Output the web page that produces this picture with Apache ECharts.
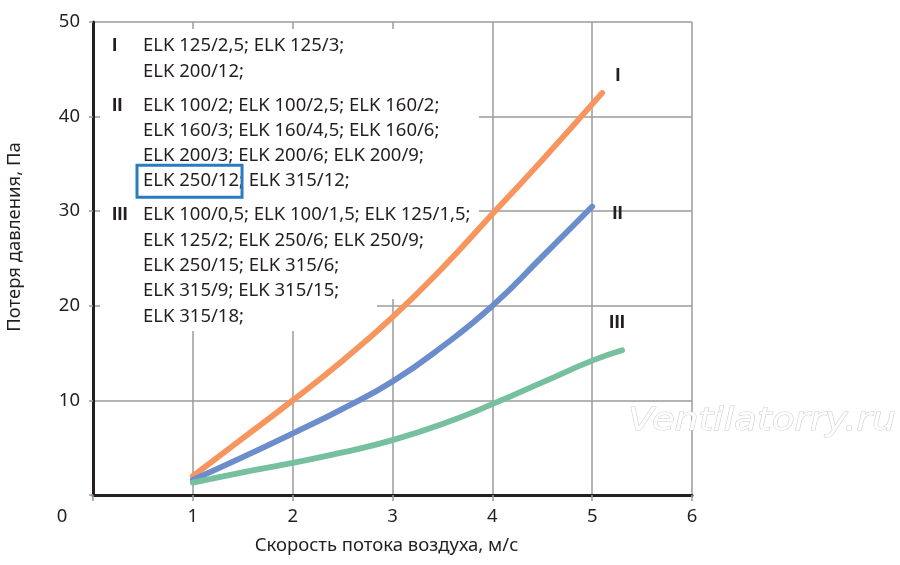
<!DOCTYPE html>
<html><head><meta charset="utf-8">
<script src="https://cdn.jsdelivr.net/npm/echarts@6/dist/echarts.min.js"></script>
<style>html,body{margin:0;padding:0;background:#fff}#c{width:900px;height:565px}</style>
</head><body><div id="c"></div>
<script>
// ---- data ----
const xTickValues = [0, 1, 2, 3, 4, 5, 6];
const yTickValues = [0, 10, 20, 30, 40, 50];
const seriesNames = ['I', 'II', 'III'];
const curveIx   = [1, 1.5, 2, 2.5, 3, 3.5, 4, 4.5, 5.1];
const curveIy   = [2.0, 6.0, 10.0, 14.2, 18.8, 24.0, 29.7, 35.4, 42.5];
const curveIIx  = [1, 1.5, 2, 2.5, 3, 3.5, 4, 4.5, 5];
const curveIIy  = [1.6, 4.0, 6.5, 9.1, 12.0, 15.7, 20.0, 25.2, 30.5];
const curveIIIx = [1, 1.5, 2, 2.5, 3, 3.5, 4, 4.5, 5, 5.3];
const curveIIIy = [1.3, 2.4, 3.4, 4.5, 5.8, 7.5, 9.6, 11.9, 14.2, 15.3];
const groupNumerals = ['I', 'II', 'III'];
const groupLinesI   = ['ELK 125/2,5; ELK 125/3;', 'ELK 200/12;'];
const groupLinesII  = ['ELK 100/2; ELK 100/2,5; ELK 160/2;', 'ELK 160/3; ELK 160/4,5; ELK 160/6;', 'ELK 200/3; ELK 200/6; ELK 200/9;', 'ELK 250/12; ELK 315/12;'];
const groupLinesIII = ['ELK 100/0,5; ELK 100/1,5; ELK 125/1,5;', 'ELK 125/2; ELK 250/6; ELK 250/9;', 'ELK 250/15; ELK 315/6;', 'ELK 315/9; ELK 315/15;', 'ELK 315/18;'];
const highlightedModel = 'ELK 250/12';
const xAxisTitle = 'Скорость потока воздуха, м/с';
const yAxisTitle = 'Потеря давления, Па';
const watermarkText = 'Ventilatorry.ru';

// ---- styles ----
const FONT_FAMILY = '"Noto Sans", "Open Sans", sans-serif';
const BOLD_FAMILY = '"Liberation Sans", "DejaVu Sans", sans-serif';
const FS = 18.5;
const INK = '#231f20';
const GRIDC = '#9b9b9b';
const colors = ['#f7955f', '#6b8dcb', '#76c09f'];
const endOffsets = [[5, -17], [12, 7], [-21, -27]];

function zip(xs, ys) { return xs.map((x, i) => [x, ys[i]]); }
const curves = [zip(curveIx, curveIy), zip(curveIIx, curveIIy), zip(curveIIIx, curveIIIy)];

const groups = [groupLinesI, groupLinesII, groupLinesIII];
const graphics = [];
// white masks hiding the grid behind the text block
graphics.push({ type: 'rect', z: 1, silent: true, shape: { x: 100, y: 29, width: 379, height: 270 }, style: { fill: '#fff' } });
graphics.push({ type: 'rect', z: 1, silent: true, shape: { x: 100, y: 299, width: 277, height: 32 }, style: { fill: '#fff' } });

const textX = 143, numX = 112;
let idx = 0;
const measureCtx = document.createElement('canvas').getContext('2d');
measureCtx.font = FS + 'px ' + FONT_FAMILY;
groups.forEach((lines, g) => {
  lines.forEach((line, j) => {
    const y = 46 + idx * 25.3 + g * 8.7;
    if (j === 0) {
      graphics.push({ type: 'text', z: 3, silent: true, style: { text: groupNumerals[g], x: numX, y: y, font: 'bold 19px ' + BOLD_FAMILY, fill: INK, align: 'left', verticalAlign: 'middle' } });
    }
    graphics.push({ type: 'text', z: 3, silent: true, style: { text: line, x: textX, y: y, font: FS + 'px ' + FONT_FAMILY, fill: INK, align: 'left', verticalAlign: 'middle' } });
    if (line.indexOf(highlightedModel) === 0) {
      const w = measureCtx.measureText(highlightedModel).width;
      graphics.push({ type: 'rect', z: 3, silent: true, shape: { x: textX - 6, y: y - 16, width: w + 9, height: 32 }, style: { fill: 'none', stroke: '#2a7cc0', lineWidth: 3 } });
    }
    idx++;
  });
});
// y axis title
graphics.push({ type: 'text', z: 3, silent: true, x: 15, y: 237, rotation: Math.PI / 2, style: { text: yAxisTitle, x: 0, y: 0, font: FS + 'px ' + FONT_FAMILY, fill: INK, align: 'center', verticalAlign: 'middle' } });
// origin label
graphics.push({ type: 'text', z: 3, silent: true, style: { text: String(xTickValues[0]), x: 62, y: 517, font: FS + 'px ' + FONT_FAMILY, fill: INK, align: 'center', verticalAlign: 'middle' } });
// watermark
graphics.push({ type: 'text', z: 4, silent: true, x: 762, y: 422, scaleX: 1.17, style: { text: watermarkText, x: 0, y: 0, font: 'italic 32px "DejaVu Sans", sans-serif', fill: '#ffffff', stroke: '#cdcdcd', lineWidth: 1, align: 'center', verticalAlign: 'middle' } });

const chart = echarts.init(document.getElementById('c'), null, { renderer: 'canvas' });
chart.setOption({
  animation: false,
  backgroundColor: '#fff',
  grid: { left: 93, right: 208, top: 22, bottom: 70, containLabel: false },
  xAxis: {
    type: 'value', min: xTickValues[0], max: xTickValues[xTickValues.length - 1], interval: 1,
    name: xAxisTitle, nameLocation: 'middle', nameGap: 41,
    nameTextStyle: { fontSize: FS, fontFamily: FONT_FAMILY, color: INK, padding: [0, 12, 0, 0] },
    axisLine: { show: true, onZero: false, lineStyle: { color: INK, width: 3 } },
    axisTick: { show: true, length: 6, lineStyle: { color: GRIDC, width: 1.5 } },
    axisLabel: { margin: 12, fontSize: FS, fontFamily: FONT_FAMILY, color: INK, formatter: v => (v === 0 ? '' : String(v)) },
    splitLine: { show: true, lineStyle: { color: GRIDC, width: 1.5 } }
  },
  yAxis: {
    type: 'value', min: yTickValues[0], max: yTickValues[yTickValues.length - 1], interval: 10,
    axisLine: { show: true, onZero: false, lineStyle: { color: INK, width: 3 } },
    axisTick: { show: true, length: 4, lineStyle: { color: GRIDC, width: 1.5 } },
    axisLabel: { margin: 13, fontSize: FS, fontFamily: FONT_FAMILY, color: INK, formatter: v => (v === 0 ? '' : String(v)) },
    splitLine: { show: true, lineStyle: { color: GRIDC, width: 1.5 } }
  },
  graphic: { elements: graphics },
  series: curves.map((d, i) => ({
    type: 'line', name: seriesNames[i], data: d, smooth: 0.5, showSymbol: false, silent: true, z: 5,
    lineStyle: { color: colors[i], width: 5.8, cap: 'round' },
    itemStyle: { color: colors[i] },
    endLabel: { show: true, formatter: '{a}', offset: endOffsets[i], fontSize: 19, fontWeight: 'bold', fontFamily: BOLD_FAMILY, color: INK }
  }))
});
</script>
</body></html>
